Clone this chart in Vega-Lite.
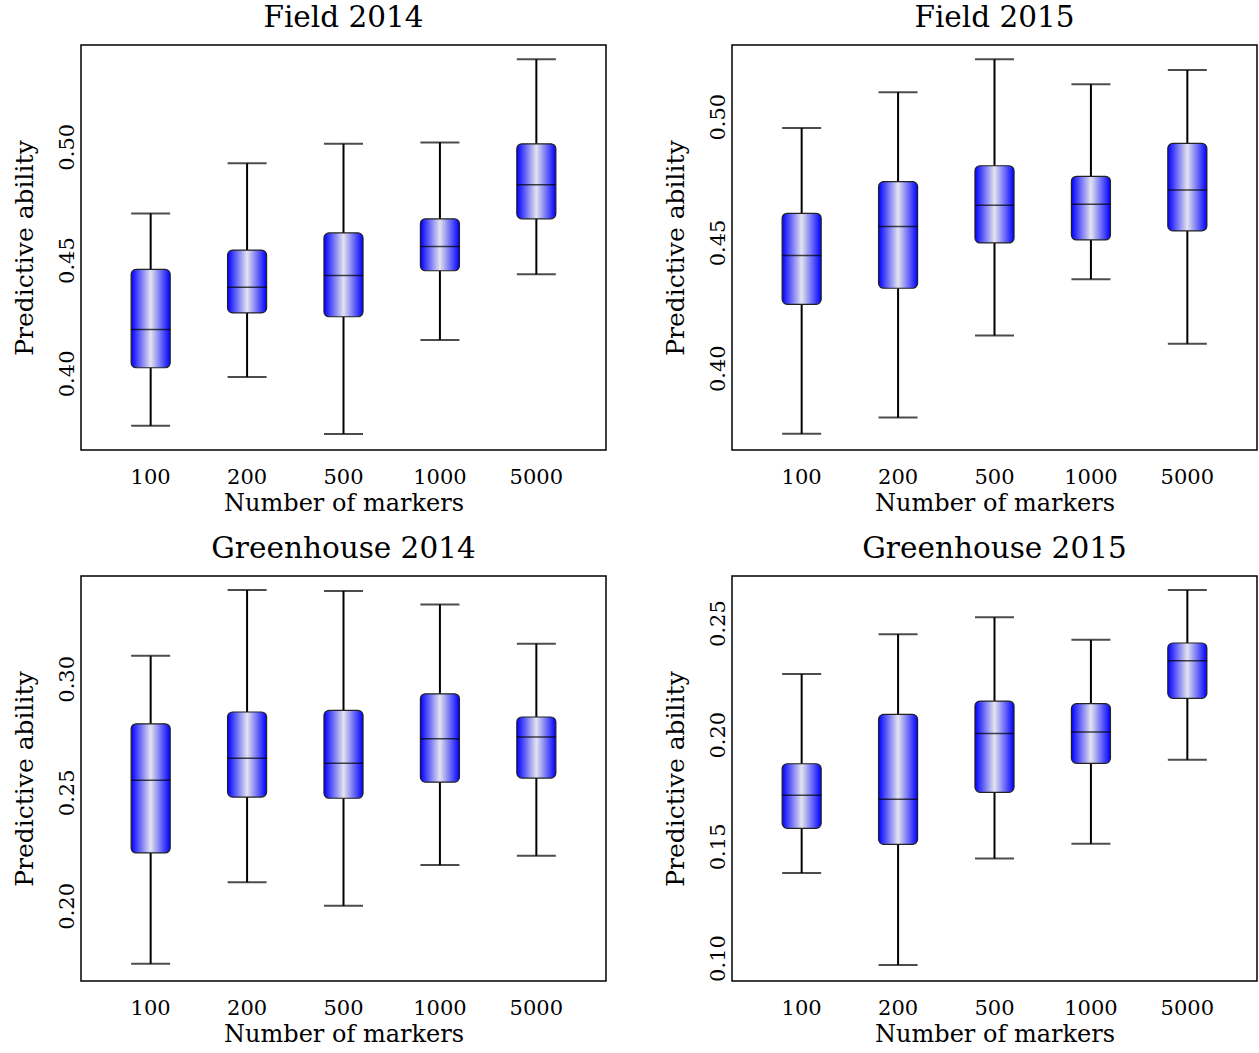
{
  "$schema": "https://vega.github.io/schema/vega-lite/v6.json",
  "background": "white",
  "padding": {"left": 11, "top": 1, "right": 0, "bottom": 0},
  "datasets": {
    "boxes": [
      {"panel": "Field 2014", "markers": "100", "lo": 0.3769, "q1": 0.4025, "med": 0.4194, "q3": 0.4459, "hi": 0.4706},
      {"panel": "Field 2014", "markers": "200", "lo": 0.3984, "q1": 0.4267, "med": 0.4380, "q3": 0.4544, "hi": 0.4927},
      {"panel": "Field 2014", "markers": "500", "lo": 0.3733, "q1": 0.4250, "med": 0.4432, "q3": 0.4620, "hi": 0.5013},
      {"panel": "Field 2014", "markers": "1000", "lo": 0.4147, "q1": 0.4453, "med": 0.4560, "q3": 0.4682, "hi": 0.5019},
      {"panel": "Field 2014", "markers": "5000", "lo": 0.4437, "q1": 0.4682, "med": 0.4832, "q3": 0.5013, "hi": 0.5386},
      {"panel": "Field 2015", "markers": "100", "lo": 0.3740, "q1": 0.4254, "med": 0.4448, "q3": 0.4616, "hi": 0.4955},
      {"panel": "Field 2015", "markers": "200", "lo": 0.3804, "q1": 0.4318, "med": 0.4563, "q3": 0.4742, "hi": 0.5097},
      {"panel": "Field 2015", "markers": "500", "lo": 0.4130, "q1": 0.4498, "med": 0.4648, "q3": 0.4805, "hi": 0.5228},
      {"panel": "Field 2015", "markers": "1000", "lo": 0.4354, "q1": 0.4510, "med": 0.4652, "q3": 0.4763, "hi": 0.5129},
      {"panel": "Field 2015", "markers": "5000", "lo": 0.4097, "q1": 0.4546, "med": 0.4709, "q3": 0.4894, "hi": 0.5186},
      {"panel": "Greenhouse 2014", "markers": "100", "lo": 0.1745, "q1": 0.2233, "med": 0.2553, "q3": 0.2802, "hi": 0.3102},
      {"panel": "Greenhouse 2014", "markers": "200", "lo": 0.2104, "q1": 0.2479, "med": 0.2650, "q3": 0.2854, "hi": 0.3391},
      {"panel": "Greenhouse 2014", "markers": "500", "lo": 0.2000, "q1": 0.2474, "med": 0.2628, "q3": 0.2861, "hi": 0.3387},
      {"panel": "Greenhouse 2014", "markers": "1000", "lo": 0.2180, "q1": 0.2545, "med": 0.2736, "q3": 0.2934, "hi": 0.3328},
      {"panel": "Greenhouse 2014", "markers": "5000", "lo": 0.2221, "q1": 0.2563, "med": 0.2744, "q3": 0.2832, "hi": 0.3155},
      {"panel": "Greenhouse 2015", "markers": "100", "lo": 0.1381, "q1": 0.1581, "med": 0.1729, "q3": 0.1870, "hi": 0.2272},
      {"panel": "Greenhouse 2015", "markers": "200", "lo": 0.0969, "q1": 0.1509, "med": 0.1711, "q3": 0.2091, "hi": 0.2450},
      {"panel": "Greenhouse 2015", "markers": "500", "lo": 0.1446, "q1": 0.1742, "med": 0.2006, "q3": 0.2151, "hi": 0.2526},
      {"panel": "Greenhouse 2015", "markers": "1000", "lo": 0.1512, "q1": 0.1872, "med": 0.2012, "q3": 0.2139, "hi": 0.2425},
      {"panel": "Greenhouse 2015", "markers": "5000", "lo": 0.1888, "q1": 0.2163, "med": 0.2331, "q3": 0.2411, "hi": 0.2648}
    ]
  },
  "columns": 2,
  "bounds": "flush",
  "spacing": {"row": 126, "column": 126},
  "concat": [
    {
      "title": "Field 2014",
      "width": 525, "height": 405,
      "data": {"name": "boxes"},
      "transform": [{"filter": "datum.panel === 'Field 2014'"}],
      "encoding": {
        "x": {"field": "markers", "type": "nominal", "scale": {"domain": ["100","200","500","1000","5000"], "paddingInner": 0.595, "paddingOuter": 0.52}, "axis": {"title": "Number of markers", "labelAngle": 0}}
      },
      "layer": [
        {"mark": {"type": "rule", "color": "black", "strokeWidth": 2}, "encoding": {"y": {"field": "lo", "type": "quantitative", "scale": {"domain": [0.3662, 0.5449], "nice": false, "zero": false}, "axis": {"title": "Predictive ability", "values": [0.40, 0.45, 0.50], "format": ".2f", "labelAngle": 270}}, "y2": {"field": "hi"}}},
        {"mark": {"type": "tick", "color": "black", "thickness": 2, "size": 39, "orient": "horizontal"}, "encoding": {"y": {"field": "lo", "type": "quantitative"}}},
        {"mark": {"type": "tick", "color": "black", "thickness": 2, "size": 39, "orient": "horizontal"}, "encoding": {"y": {"field": "hi", "type": "quantitative"}}},
        {"mark": {"type": "bar", "cornerRadius": 5, "stroke": "#222222", "strokeWidth": 1.2, "color": {"gradient": "linear", "x1": 0, "y1": 0, "x2": 1, "y2": 0, "stops": [{"offset": 0, "color": "#0000ff"}, {"offset": 0.5, "color": "#e4e4ee"}, {"offset": 1, "color": "#0000ff"}]}}, "encoding": {"y": {"field": "q1", "type": "quantitative"}, "y2": {"field": "q3"}}},
        {"mark": {"type": "tick", "color": "black", "thickness": 1.5, "size": 39, "orient": "horizontal"}, "encoding": {"y": {"field": "med", "type": "quantitative"}}}
      ]
    },
    {
      "title": "Field 2015",
      "width": 525, "height": 405,
      "data": {"name": "boxes"},
      "transform": [{"filter": "datum.panel === 'Field 2015'"}],
      "encoding": {
        "x": {"field": "markers", "type": "nominal", "scale": {"domain": ["100","200","500","1000","5000"], "paddingInner": 0.595, "paddingOuter": 0.52}, "axis": {"title": "Number of markers", "labelAngle": 0}}
      },
      "layer": [
        {"mark": {"type": "rule", "color": "black", "strokeWidth": 2}, "encoding": {"y": {"field": "lo", "type": "quantitative", "scale": {"domain": [0.3675, 0.5285], "nice": false, "zero": false}, "axis": {"title": "Predictive ability", "values": [0.40, 0.45, 0.50], "format": ".2f", "labelAngle": 270}}, "y2": {"field": "hi"}}},
        {"mark": {"type": "tick", "color": "black", "thickness": 2, "size": 39, "orient": "horizontal"}, "encoding": {"y": {"field": "lo", "type": "quantitative"}}},
        {"mark": {"type": "tick", "color": "black", "thickness": 2, "size": 39, "orient": "horizontal"}, "encoding": {"y": {"field": "hi", "type": "quantitative"}}},
        {"mark": {"type": "bar", "cornerRadius": 5, "stroke": "#222222", "strokeWidth": 1.2, "color": {"gradient": "linear", "x1": 0, "y1": 0, "x2": 1, "y2": 0, "stops": [{"offset": 0, "color": "#0000ff"}, {"offset": 0.5, "color": "#e4e4ee"}, {"offset": 1, "color": "#0000ff"}]}}, "encoding": {"y": {"field": "q1", "type": "quantitative"}, "y2": {"field": "q3"}}},
        {"mark": {"type": "tick", "color": "black", "thickness": 1.5, "size": 39, "orient": "horizontal"}, "encoding": {"y": {"field": "med", "type": "quantitative"}}}
      ]
    },
    {
      "title": "Greenhouse 2014",
      "width": 525, "height": 405,
      "data": {"name": "boxes"},
      "transform": [{"filter": "datum.panel === 'Greenhouse 2014'"}],
      "encoding": {
        "x": {"field": "markers", "type": "nominal", "scale": {"domain": ["100","200","500","1000","5000"], "paddingInner": 0.595, "paddingOuter": 0.52}, "axis": {"title": "Number of markers", "labelAngle": 0}}
      },
      "layer": [
        {"mark": {"type": "rule", "color": "black", "strokeWidth": 2}, "encoding": {"y": {"field": "lo", "type": "quantitative", "scale": {"domain": [0.1669, 0.3453], "nice": false, "zero": false}, "axis": {"title": "Predictive ability", "values": [0.20, 0.25, 0.30], "format": ".2f", "labelAngle": 270}}, "y2": {"field": "hi"}}},
        {"mark": {"type": "tick", "color": "black", "thickness": 2, "size": 39, "orient": "horizontal"}, "encoding": {"y": {"field": "lo", "type": "quantitative"}}},
        {"mark": {"type": "tick", "color": "black", "thickness": 2, "size": 39, "orient": "horizontal"}, "encoding": {"y": {"field": "hi", "type": "quantitative"}}},
        {"mark": {"type": "bar", "cornerRadius": 5, "stroke": "#222222", "strokeWidth": 1.2, "color": {"gradient": "linear", "x1": 0, "y1": 0, "x2": 1, "y2": 0, "stops": [{"offset": 0, "color": "#0000ff"}, {"offset": 0.5, "color": "#e4e4ee"}, {"offset": 1, "color": "#0000ff"}]}}, "encoding": {"y": {"field": "q1", "type": "quantitative"}, "y2": {"field": "q3"}}},
        {"mark": {"type": "tick", "color": "black", "thickness": 1.5, "size": 39, "orient": "horizontal"}, "encoding": {"y": {"field": "med", "type": "quantitative"}}}
      ]
    },
    {
      "title": "Greenhouse 2015",
      "width": 525, "height": 405,
      "data": {"name": "boxes"},
      "transform": [{"filter": "datum.panel === 'Greenhouse 2015'"}],
      "encoding": {
        "x": {"field": "markers", "type": "nominal", "scale": {"domain": ["100","200","500","1000","5000"], "paddingInner": 0.595, "paddingOuter": 0.52}, "axis": {"title": "Number of markers", "labelAngle": 0}}
      },
      "layer": [
        {"mark": {"type": "rule", "color": "black", "strokeWidth": 2}, "encoding": {"y": {"field": "lo", "type": "quantitative", "scale": {"domain": [0.0897, 0.2711], "nice": false, "zero": false}, "axis": {"title": "Predictive ability", "values": [0.10, 0.15, 0.20, 0.25], "format": ".2f", "labelAngle": 270}}, "y2": {"field": "hi"}}},
        {"mark": {"type": "tick", "color": "black", "thickness": 2, "size": 39, "orient": "horizontal"}, "encoding": {"y": {"field": "lo", "type": "quantitative"}}},
        {"mark": {"type": "tick", "color": "black", "thickness": 2, "size": 39, "orient": "horizontal"}, "encoding": {"y": {"field": "hi", "type": "quantitative"}}},
        {"mark": {"type": "bar", "cornerRadius": 5, "stroke": "#222222", "strokeWidth": 1.2, "color": {"gradient": "linear", "x1": 0, "y1": 0, "x2": 1, "y2": 0, "stops": [{"offset": 0, "color": "#0000ff"}, {"offset": 0.5, "color": "#e4e4ee"}, {"offset": 1, "color": "#0000ff"}]}}, "encoding": {"y": {"field": "q1", "type": "quantitative"}, "y2": {"field": "q3"}}},
        {"mark": {"type": "tick", "color": "black", "thickness": 1.5, "size": 39, "orient": "horizontal"}, "encoding": {"y": {"field": "med", "type": "quantitative"}}}
      ]
    }
  ],
  "config": {
    "font": "DejaVu Serif",
    "view": {"stroke": "black", "strokeWidth": 1.5},
    "axis": {"domain": false, "ticks": false, "grid": false, "labelFontSize": 21, "labelColor": "black", "titleFontSize": 24, "titleFontWeight": "normal", "titleColor": "black", "labelPadding": 16, "titlePadding": 4},
    "axisY": {"labelPadding": 4, "titlePadding": 19, "titleFontSize": 25},
    "title": {"fontSize": 29.5, "fontWeight": "normal", "color": "black", "offset": 12, "anchor": "middle"}
  }
}
